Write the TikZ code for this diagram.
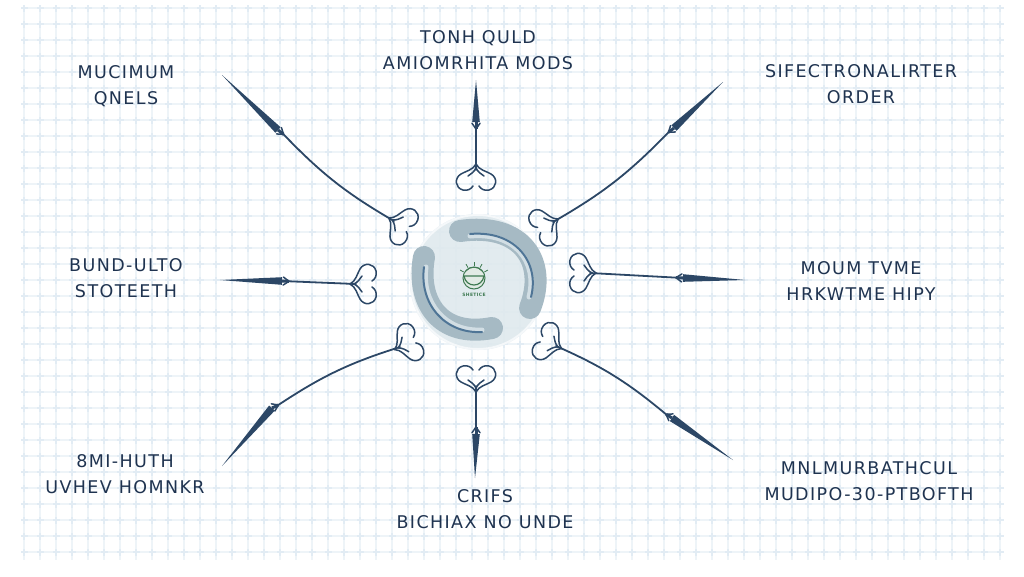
\documentclass[tikz,border=0pt]{standalone}
\usepackage{fontspec}
\setmainfont{DejaVu Sans}[LetterSpace=8]
\usetikzlibrary{calc}
\definecolor{inkc}{HTML}{2C4766}
\definecolor{textc}{HTML}{1F3350}
\definecolor{gridc}{HTML}{EEF4F8}
\definecolor{gridd}{HTML}{E2ECF4}
\definecolor{glowc}{HTML}{DFE9EE}
\definecolor{bandc}{HTML}{A6BAC4}
\definecolor{bandl}{HTML}{D2DEE4}
\definecolor{bandd}{HTML}{4F7596}
\definecolor{embc}{HTML}{3F7A52}
\tikzset{
  lbl/.style={font=\fontsize{17.5}{26}\selectfont, text=textc, align=center, inner sep=0pt},
  shaft/.style={draw=inkc, line width=1.8pt, line cap=round},
  curlpen/.style={draw=inkc, line width=1.5pt, line cap=round},
  curl/.pic={
    \draw[curlpen] (6,0) .. controls (0,3) and (-1,10) .. (-4,15) .. controls (-8,22) and (-18,21) .. (-20,13) .. controls (-21,8) and (-19,5) .. (-16,3);
    \draw[curlpen] (6,0) .. controls (0,-3) and (-1,-10) .. (-4,-15) .. controls (-8,-22) and (-18,-21) .. (-20,-13) .. controls (-21,-8) and (-19,-5) .. (-16,-3);
    \draw[curlpen] (2,0) .. controls (-2,2) and (-4,5) .. (-6,8);
    \draw[curlpen] (2,0) .. controls (-2,-2) and (-4,-5) .. (-6,-8);
  }
}
\newcommand\featherarrow[4]{% tip, base, inner, bend
  \fill[inkc] (#1) -- ($(#2)!3.8pt!90:(#1)$) -- ($(#2)!3.8pt!-90:(#1)$) -- cycle;
  \coordinate (fa@n) at ($(#2)!7pt!(#3)$);
  \draw[inkc, line width=1.5pt, line cap=round] (fa@n) -- ($(fa@n)!7pt!145:(#3)$);
  \draw[inkc, line width=1.5pt, line cap=round] (fa@n) -- ($(fa@n)!7pt!-145:(#3)$);
  \draw[inkc, line width=3pt] (#2) -- (fa@n);
  \draw[shaft] (fa@n) to[bend left=#4] (#3);
}
\begin{document}
\begin{tikzpicture}[x=1pt,y=-1pt]
\useasboundingbox (0,0) rectangle (1024,576);
\fill[white] (0,0) rectangle (1024,576);
% grid
\foreach \gx in {24,40,...,1000} \draw[gridc, line width=1.6pt] (\gx,8) -- (\gx,560);
\foreach \gy in {8,24,...,560} \draw[gridc, line width=1.6pt] (24,\gy) -- (1000,\gy);
\foreach \gx in {24,40,...,1000} {
  \foreach \gy in {8,24,...,560} {
    \fill[gridd] (\gx-1.3,\gy-3.5) rectangle (\gx+1.3,\gy+3.5);
    \fill[gridd] (\gx-3.5,\gy-1.3) rectangle (\gx+3.5,\gy+1.3);
  }
}
% central glow
\fill[glowc, opacity=0.9] (478,282) circle (68);
\draw[white!70!glowc, line width=2pt] (478,282) circle (67);
% bands
\coordinate (bandA1) at (460,231);
\coordinate (bandA2) at (530,308);
\coordinate (bandB1) at (424,257);
\coordinate (bandB2) at (492,328);
\draw[bandc, line width=22pt, line cap=round] (bandA1) .. controls (522,222) and (548,262) .. (bandA2);
\draw[bandc, line width=22pt, line cap=round] (bandB1) .. controls (416,302) and (440,338) .. (bandB2);
\draw[bandl, line width=5pt, line cap=round] (470,236) .. controls (515,232) and (538,262) .. (529,297);
\draw[bandd, line width=2pt, line cap=round] (470,234) .. controls (515,230) and (540,262) .. (531,297);
\draw[bandl, line width=5pt, line cap=round] (426,267) .. controls (421,302) and (445,332) .. (482,330);
\draw[bandd, line width=2pt, line cap=round] (424,267) .. controls (419,304) and (445,334) .. (482,332);
% emblem
\node[circle, draw=embc, line width=1pt, fill=white!85!embc, minimum size=22pt, inner sep=0pt] (emblem) at (474,278) {};
\draw[embc, line width=1.2pt] (464,276) -- (484,276) .. controls (482,288) and (466,288) .. (464,276);
\draw[embc, line width=0.8pt] (466,271) .. controls (470,266) and (478,266) .. (482,271);
\foreach \a in {150,120,90,60,30} \draw[embc, line width=0.8pt] ($(emblem.center)+(\a:-12)$) -- ($(emblem.center)+(\a:-16)$);
\node[text=embc, font=\fontsize{4.5}{5}\selectfont\bfseries, inner sep=0pt] (embtxt) at (474,295) {SHETICE};
% arrow coordinates
\coordinate (t1) at (222,75);  \coordinate (b1) at (278,130); \coordinate (i1) at (394,221);
\coordinate (t2) at (476,80);  \coordinate (b2) at (476,122); \coordinate (i2) at (476,170);
\coordinate (t3) at (723,82);  \coordinate (b3) at (674,128); \coordinate (i3) at (553,222);
\coordinate (t4) at (220,280); \coordinate (b4) at (282,281); \coordinate (i4) at (356,284);
\coordinate (t5) at (745,280); \coordinate (b5) at (683,278); \coordinate (i5) at (590,273);
\coordinate (t6) at (222,466); \coordinate (b6) at (272,408); \coordinate (i6) at (400,347);
\coordinate (t7) at (475,478); \coordinate (b7) at (476,434); \coordinate (i7) at (476,386);
\coordinate (t8) at (733,460); \coordinate (b8) at (672,418); \coordinate (i8) at (556,346);
\featherarrow{t1}{b1}{i1}{-8}
\featherarrow{t2}{b2}{i2}{0}
\featherarrow{t3}{b3}{i3}{8}
\featherarrow{t4}{b4}{i4}{0}
\featherarrow{t5}{b5}{i5}{0}
\featherarrow{t6}{b6}{i6}{8}
\featherarrow{t7}{b7}{i7}{0}
\featherarrow{t8}{b8}{i8}{-8}
% curls
\pic[rotate=150] at (i1) {curl};
\pic[rotate=90] at (i2) {curl};
\pic[rotate=30] at (i3) {curl};
\pic[rotate=180] at (i4) {curl};
\pic[rotate=0] at (i5) {curl};
\pic[rotate=205] at (i6) {curl};
\pic[rotate=270] at (i7) {curl};
\pic[rotate=-25] at (i8) {curl};
% labels
\node[lbl] (l1) at (126,86) {MUCIMUM\\QNELS};
\node[lbl] (l2) at (478,50) {TONH QULD\\AMIOMRHITA MODS};
\node[lbl] (l3) at (861,84) {SIFECTRONALIRTER\\ORDER};
\node[lbl] (l4) at (126,278) {BUND-ULTO\\STOTEETH};
\node[lbl] (l5) at (861,281) {MOUM TVME\\HRKWTME HIPY};
\node[lbl] (l6) at (125,474) {8MI-HUTH\\UVHEV HOMNKR};
\node[lbl] (l7) at (485,509) {CRIFS\\BICHIAX NO UNDE};
\node[lbl] (l8) at (869,481) {MNLMURBATHCUL\\MUDIPO-30-PTBOFTH};
\end{tikzpicture}
\end{document}
